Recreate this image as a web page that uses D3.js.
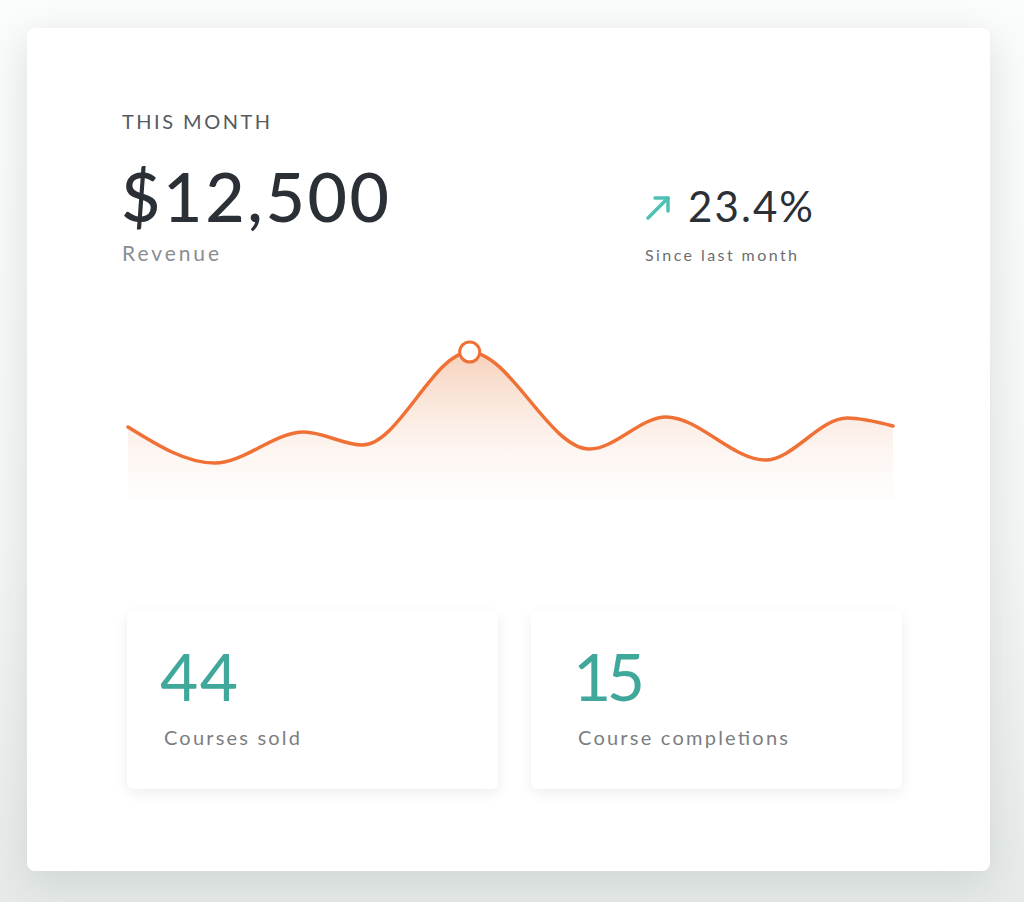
<!DOCTYPE html>
<html><head><meta charset="utf-8">
<script src="https://cdn.jsdelivr.net/npm/d3@7"></script>
<style>
html,body{margin:0;padding:0;width:1024px;height:902px;overflow:hidden;background:#f3f5f4;font-family:Lato,"Open Sans",sans-serif;}
#bg{position:absolute;left:0;top:0;width:1024px;height:902px;background:linear-gradient(#fbfcfc,#f4f6f5 60%,#e6eae8);}
#card{position:absolute;left:27px;top:28px;width:963px;height:843px;background:#fff;border-radius:8px;box-shadow:0 12px 40px rgba(160,172,168,0.35);}
.mini{position:absolute;top:611px;width:371px;height:178px;background:#fff;border-radius:6px;box-shadow:0 4px 14px rgba(0,0,0,0.07);}
svg{position:absolute;left:0;top:0;}
</style></head><body>
<div id="bg"></div>
<div id="card"></div>
<div class="mini" style="left:127px"></div>
<div class="mini" style="left:531px"></div>
<svg id="chart" width="1024" height="902"></svg>
<script>
// Data
const days = [0, 3.4, 6.9, 9.2, 13.4, 18.1, 21.1, 25, 28.2, 30];
const revenue = [73, 37, 68, 55, 148, 51, 83, 40, 82, 74];
const highlightIndex = 4;
const headerLabel = "THIS MONTH";
const totalRevenue = "$12,500";
const revenueLabel = "Revenue";
const changeValue = "23.4%";
const changeLabel = "Since last month";
const statValues = ["44", "15"];
const statLabels = ["Courses sold", "Course completions"];

const svg = d3.select("#chart");
const x = d3.scaleLinear().domain([0, 30]).range([128, 893]);
const y = d3.scaleLinear().domain([0, 150]).range([500, 350]);
const pts = days.map((d, i) => ({d, v: revenue[i]}));

const defs = svg.append("defs");
const grad = defs.append("linearGradient").attr("id", "fillGrad").attr("x1", 0).attr("y1", 0).attr("x2", 0).attr("y2", 1);
grad.append("stop").attr("offset", "0%").attr("stop-color", "#f4c9b0").attr("stop-opacity", 0.85);
grad.append("stop").attr("offset", "100%").attr("stop-color", "#fdf3ee").attr("stop-opacity", 0.15);

const area = d3.area().x(p => x(p.d)).y0(y(0)).y1(p => y(p.v)).curve(d3.curveMonotoneX);
const line = d3.line().x(p => x(p.d)).y(p => y(p.v)).curve(d3.curveMonotoneX);

svg.append("path").datum(pts).attr("d", area).attr("fill", "url(#fillGrad)");
svg.append("path").datum(pts).attr("d", line).attr("fill", "none")
  .attr("stroke", "#f07136").attr("stroke-width", 3.5).attr("stroke-linecap", "round");
const hp = pts[highlightIndex];
svg.append("circle").attr("cx", x(hp.d)).attr("cy", y(hp.v)).attr("r", 10)
  .attr("fill", "#fff").attr("stroke", "#f07136").attr("stroke-width", 3);

function txt(s, xx, yy, size, fill, len, weight) {
  return svg.append("text").attr("x", xx).attr("y", yy).text(s)
    .attr("font-size", size).attr("fill", fill).attr("font-weight", weight || 400)
    .attr("textLength", len).attr("lengthAdjust", "spacing");
}

txt(headerLabel, 122, 129, 20, "#555a60", 148);
txt(totalRevenue, 121, 222, 68, "#2b2f36", 268, 500);
txt(revenueLabel, 122, 261, 21, "#8a8d91", 97);

// arrow
const ag = svg.append("g").attr("stroke", "#4fc0b5").attr("stroke-width", 3.5).attr("fill", "none").attr("stroke-linecap", "round").attr("stroke-linejoin", "round");
ag.append("line").attr("x1", 648).attr("y1", 218).attr("x2", 668).attr("y2", 198);
ag.append("polyline").attr("points", "655,198 668,198 668,211");

txt(changeValue, 688, 222, 42, "#2b2f36", 125);
txt(changeLabel, 645, 261, 16, "#6b6e72", 152);

const numX = [160, 573];
const labX = [164, 578];
const labLen = [136, 210];
const numLen = [78, 72];
statValues.forEach((v, i) => {
  txt(v, numX[i], 701, 66, "#3fa89b", numLen[i]);
  txt(statLabels[i], labX[i], 745, 20, "#7b7e82", labLen[i]);
});
</script>
</body></html>
